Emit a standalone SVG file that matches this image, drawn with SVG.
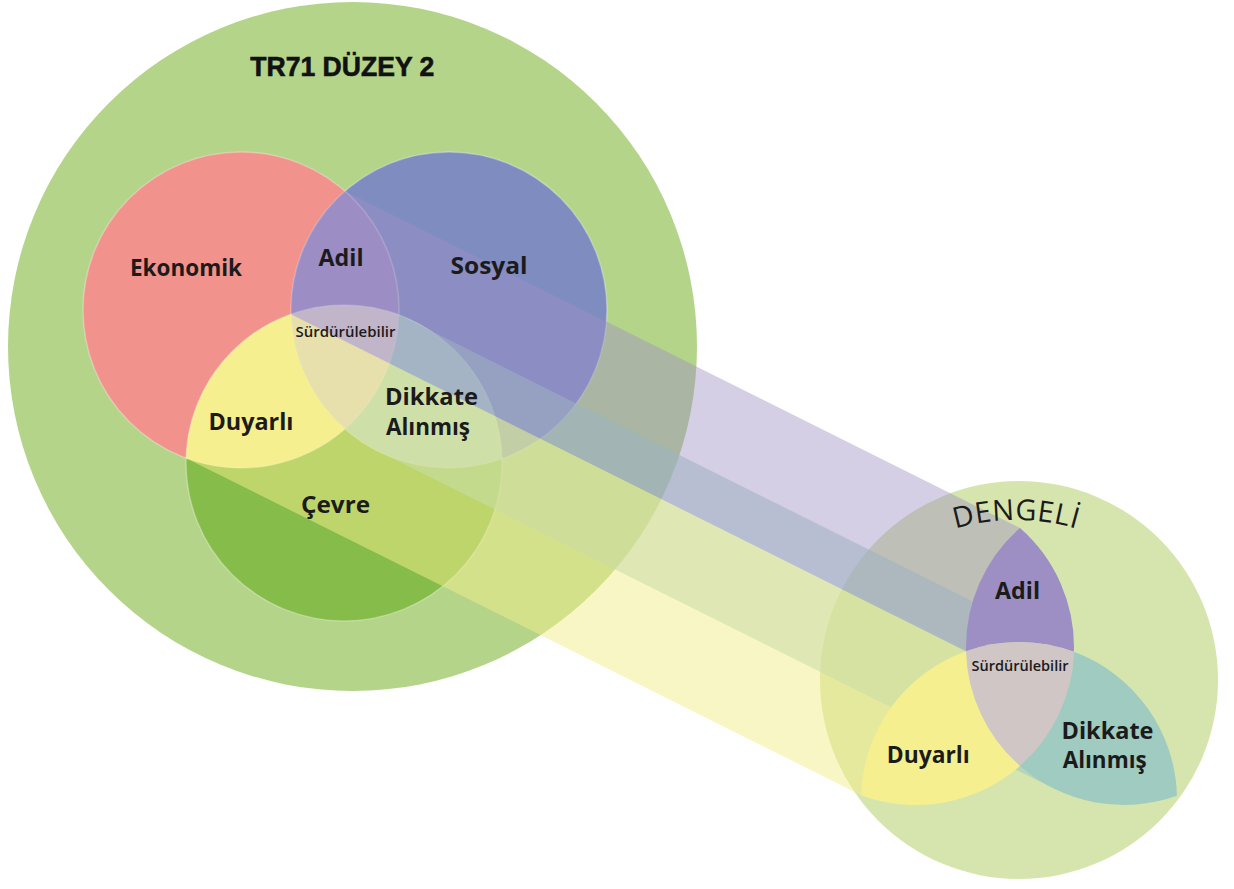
<svg xmlns="http://www.w3.org/2000/svg" width="1234" height="889" viewBox="0 0 1234 889">
<defs>
<style>
.lbl{font-family:"Comic Sans MS","Open Sans","DejaVu Sans",sans-serif;font-weight:700;font-size:24px;fill:#1b1b1b;text-anchor:middle}
.two{font-size:22.5px}
.sm{font-size:13.5px;font-weight:600}
.title{font-family:"Liberation Sans",Arial,sans-serif;font-weight:700;font-size:27px;fill:#111;stroke:#111;stroke-width:0.6;text-anchor:middle}
.dengeli{font-family:"Comic Sans MS","Open Sans",sans-serif;font-size:29px;font-weight:500;fill:#1b1b1b;letter-spacing:0.5px}
.rim{fill:none;stroke:#ffffff;stroke-opacity:0.3;stroke-width:1.5}
</style>
<path id="rAdil" d="M345,191.05 A158,158 0 0 1 398.92,314.86 A158,158 0 0 0 291.05,314.13 A158,158 0 0 1 345,191.05 Z"/>
<path id="rSurd" d="M291.05,314.13 A158,158 0 0 1 398.92,314.86 A158,158 0 0 1 345,428.95 A158,158 0 0 1 291.05,314.13 Z"/>
<path id="rDuy" d="M291.05,314.13 A158,158 0 0 0 186.08,458.14 A158,158 0 0 0 345,428.95 A158,158 0 0 1 291.05,314.13 Z"/>
<path id="rDik" d="M398.92,314.86 A158,158 0 0 1 501.95,458.87 A158,158 0 0 1 345,428.95 A158,158 0 0 0 398.92,314.86 Z"/>
<path id="arcD" d="M930,537.95 A215,215 0 0 1 1102,537.95"/>
</defs>
<rect width="1234" height="889" fill="#ffffff"/>

<g id="node-tr71">
<circle cx="352.5" cy="346.5" r="344.5" fill="#b4d48a"/>
</g>

<g id="node-ekonomik"><circle cx="241" cy="310" r="158" fill="#f2928c"/></g>
<g id="node-sosyal"><circle cx="449" cy="310" r="158" fill="#7f8cc0"/></g>
<g id="node-cevre"><circle cx="344" cy="463" r="158" fill="#86bd4a"/></g>
<g id="node-adil-left"><use href="#rAdil" fill="#9c8ec4"/></g>
<g id="node-surd-left"><use href="#rSurd" fill="#dcd2cc"/></g>
<g id="node-duyarli-left"><use href="#rDuy" fill="#f6f092"/></g>
<g id="node-dikkate-left"><use href="#rDik" fill="#b8d8cc"/></g>
<g id="rims">
<circle class="rim" cx="241" cy="310" r="158"/>
<circle class="rim" cx="449" cy="310" r="158"/>
<circle class="rim" cx="344" cy="463" r="158"/>
</g>

<g id="node-dengeli">
<circle cx="1019" cy="680" r="199" fill="#d6e5ae"/>
</g>

<g id="connectors">
<path id="band-dikkate" d="M398.92,314.86 A158,158 0 0 1 345,428.95 A158,158 0 0 0 378.42,451.35 L1053.42,788.35 L1073.92,651.86 Z" fill="#9ecbc0" fill-opacity="0.55"/>
<path id="band-duyarli" d="M291.05,314.13 A158,158 0 0 0 186.08,458.14 L861.08,795.14 L966.05,651.13 Z" fill="#f4ee8c" fill-opacity="0.5"/>
<path id="band-adil" d="M345,191.05 A158,158 0 0 0 291.05,314.13 L966.05,651.13 L1020,528.05 Z" fill="#9d8fc4" fill-opacity="0.43"/>
</g>

<g id="node-adil-right"><use href="#rAdil" transform="translate(675,337)" fill="#9d8fc4"/></g>
<g id="node-surd-right"><use href="#rSurd" transform="translate(675,337)" fill="#d0c6c6"/></g>
<g id="node-duyarli-right"><use href="#rDuy" transform="translate(675,337)" fill="#f5ef90"/></g>
<g id="node-dikkate-right"><use href="#rDik" transform="translate(675,337)" fill="#9fcbc0"/></g>

<g id="labels">
<text class="title" x="342.3" y="75.5" textLength="184" lengthAdjust="spacingAndGlyphs">TR71 DÜZEY 2</text>
<text class="lbl" x="186" y="276" textLength="112" lengthAdjust="spacingAndGlyphs">Ekonomik</text>
<text class="lbl" x="341" y="266" textLength="45" lengthAdjust="spacingAndGlyphs">Adil</text>
<text class="lbl" x="489" y="274" textLength="77" lengthAdjust="spacingAndGlyphs">Sosyal</text>
<text class="lbl sm" x="345.5" y="337" textLength="100" lengthAdjust="spacingAndGlyphs">Sürdürülebilir</text>
<text class="lbl" x="251" y="430" textLength="85" lengthAdjust="spacingAndGlyphs">Duyarlı</text>
<text class="lbl two" x="431.5" y="404.5" textLength="93" lengthAdjust="spacingAndGlyphs">Dikkate</text>
<text class="lbl two" x="428" y="434.5" textLength="84" lengthAdjust="spacingAndGlyphs">Alınmış</text>
<text class="lbl" x="335.5" y="512.5" textLength="69" lengthAdjust="spacingAndGlyphs">Çevre</text>
<text class="dengeli"><textPath href="#arcD" startOffset="50%" text-anchor="middle">DENGELİ</textPath></text>
<text class="lbl" x="1017.5" y="599" textLength="45" lengthAdjust="spacingAndGlyphs">Adil</text>
<text class="lbl sm" x="1020" y="670.5" textLength="97" lengthAdjust="spacingAndGlyphs">Sürdürülebilir</text>
<text class="lbl" x="928.3" y="762.5" textLength="83" lengthAdjust="spacingAndGlyphs">Duyarlı</text>
<text class="lbl two" x="1107.5" y="738.5" textLength="92" lengthAdjust="spacingAndGlyphs">Dikkate</text>
<text class="lbl two" x="1104.7" y="768" textLength="84" lengthAdjust="spacingAndGlyphs">Alınmış</text>
</g>
</svg>
